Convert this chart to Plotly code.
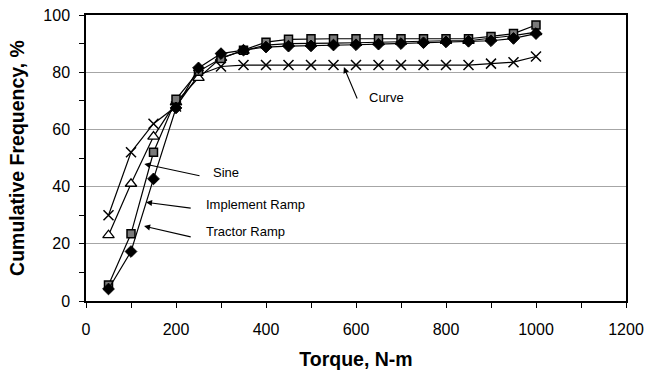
import plotly.graph_objects as go

torque = [50, 100, 150, 200, 250, 300, 350, 400, 450, 500, 550, 600, 650, 700, 750, 800, 850, 900, 950, 1000]

curve = [30, 52, 62, 68, 79, 82, 82.5, 82.5, 82.5, 82.5, 82.5, 82.5, 82.5, 82.5, 82.5, 82.5, 82.5, 83, 83.5, 85.5]
sine = [23, 41, 57.5, 69.5, 78, 85, 87.5, 89.5, 90, 90, 90.2, 90.3, 90.5, 90.7, 91, 91, 91, 91.8, 92.8, 94]
implement_ramp = [5.6, 23.5, 52, 70.5, 80.3, 84.8, 87.7, 90.5, 91.5, 91.7, 91.7, 91.7, 91.7, 91.7, 91.7, 91.7, 91.7, 92.5, 93.5, 96.5]
tractor_ramp = [4.2, 17.3, 42.7, 67.5, 81.5, 86.5, 87.7, 88.8, 89.1, 89.2, 89.5, 89.6, 89.8, 90, 90.3, 90.6, 90.8, 91, 91.8, 93.5]

FONT = "Arial, 'Liberation Sans', sans-serif"

fig = go.Figure()

fig.add_trace(go.Scatter(x=torque, y=curve, mode="lines+markers", name="Curve",
                         line=dict(color="black", width=1.2),
                         marker=dict(symbol="x-thin-open", size=10, color="black",
                                     line=dict(color="black", width=1.5))))
fig.add_trace(go.Scatter(x=torque, y=sine, mode="lines+markers", name="Sine",
                         line=dict(color="black", width=1.2),
                         marker=dict(symbol="triangle-up", size=10, color="white",
                                     line=dict(color="black", width=1.3))))
fig.add_trace(go.Scatter(x=torque, y=implement_ramp, mode="lines+markers", name="Implement Ramp",
                         line=dict(color="black", width=1.2),
                         marker=dict(symbol="square", size=8, color="#7a7a7a",
                                     line=dict(color="black", width=1.5))))
fig.add_trace(go.Scatter(x=torque, y=tractor_ramp, mode="lines+markers", name="Tractor Ramp",
                         line=dict(color="black", width=1.2),
                         marker=dict(symbol="diamond", size=9, color="black",
                                     line=dict(color="black", width=1))))

# arrows (head x,y ; tail ax,ay) in data coordinates, and labels
arrows = [
    (573, 81.8, 604, 70.3),
    (129.6, 47.9, 255.6, 43.7),
    (133.3, 34.5, 236, 32.4),
    (129, 26.2, 236, 22.3),
]
for hx, hy, tx, ty in arrows:
    fig.add_annotation(x=hx, y=hy, ax=tx, ay=ty, axref="x", ayref="y", xref="x", yref="y",
                       text="", showarrow=True, arrowhead=2, arrowsize=1.1, arrowwidth=1.1,
                       arrowcolor="black")

labels = [
    ("Curve", 624, 71),
    ("Sine", 277, 44.9),
    ("Implement Ramp", 262, 33.6),
    ("Tractor Ramp", 262, 24.2),
]
for txt, lx, ly in labels:
    fig.add_annotation(x=lx, y=ly, xref="x", yref="y", text=txt, showarrow=False,
                       xanchor="left", yanchor="middle",
                       font=dict(family=FONT, size=13, color="black"))

fig.update_layout(
    width=647, height=372,
    margin=dict(l=86, r=21, t=15, b=71, autoexpand=False),
    paper_bgcolor="white", plot_bgcolor="white",
    showlegend=False,
    font=dict(family=FONT, color="black"),
)
fig.update_xaxes(
    range=[0, 1200], tick0=0, dtick=200, automargin=False,
    showgrid=False, zeroline=False,
    showline=True, linecolor="black", linewidth=1.5, mirror=True,
    ticks="outside", ticklen=5, tickwidth=1.3, tickcolor="black",
    minor=dict(dtick=100, ticks="outside", ticklen=5, tickwidth=1.3, tickcolor="black", showgrid=False),
    tickfont=dict(family=FONT, size=16, color="black"),
    ticklabelstandoff=8,
    title=dict(text="<b>Torque, N-m</b>", font=dict(family=FONT, size=19.5, color="black"), standoff=15),
)
fig.update_yaxes(
    range=[0, 100], tick0=0, dtick=20, automargin=False,
    showgrid=True, gridcolor="#a6a6a6", gridwidth=1,
    zeroline=False,
    showline=True, linecolor="black", linewidth=1.5, mirror=True,
    ticks="outside", ticklen=5, tickwidth=1.3, tickcolor="black",
    minor=dict(dtick=10, ticks="outside", ticklen=5, tickwidth=1.3, tickcolor="black", showgrid=False),
    tickfont=dict(family=FONT, size=16, color="black"),
    ticklabelstandoff=6,
    title=dict(text="<b>Cumulative Frequency, %</b>", font=dict(family=FONT, size=19.5, color="black"), standoff=14),
)

fig.write_html("out.html")
